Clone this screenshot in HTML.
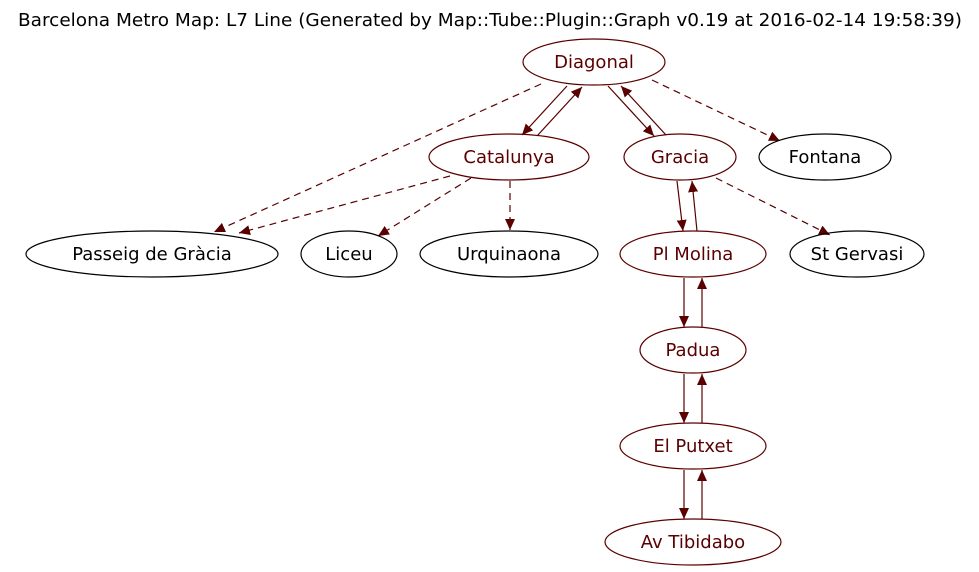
<!DOCTYPE html>
<html><head><meta charset="utf-8"><style>
html,body{margin:0;padding:0;background:#fff;}
svg{display:block;}
text{font-family:"DejaVu Sans","Liberation Sans",sans-serif;font-size:18px;}
</style></head><body>
<svg width="979" height="572" viewBox="0 0 979 572" xmlns="http://www.w3.org/2000/svg">
<defs>
<marker id="a" markerUnits="userSpaceOnUse" markerWidth="12" markerHeight="10" refX="11" refY="5" orient="auto">
<path d="M0,0 L11,5 L0,10 Z" fill="#5a0000"/>
</marker>
</defs>
<text x="490" y="26" text-anchor="middle" fill="#000" textLength="944" lengthAdjust="spacingAndGlyphs">Barcelona Metro Map: L7 Line (Generated by Map::Tube::Plugin::Graph v0.19 at 2016-02-14 19:58:39)</text>
<g fill="none" stroke="#5a0000" stroke-width="1.2">
<line x1="567" y1="86" x2="522" y2="135" marker-end="url(#a)"/>
<line x1="537" y1="136" x2="582" y2="87" marker-end="url(#a)"/>
<line x1="608" y1="86" x2="654" y2="136" marker-end="url(#a)"/>
<line x1="666" y1="135" x2="621" y2="86" marker-end="url(#a)"/>
<line x1="677" y1="181" x2="683" y2="231" marker-end="url(#a)"/>
<line x1="697" y1="231" x2="692" y2="181" marker-end="url(#a)"/>
<line x1="684" y1="278" x2="684" y2="327" marker-end="url(#a)"/>
<line x1="702" y1="327" x2="702" y2="278" marker-end="url(#a)"/>
<line x1="684" y1="374" x2="684" y2="423" marker-end="url(#a)"/>
<line x1="702" y1="423" x2="702" y2="374" marker-end="url(#a)"/>
<line x1="684" y1="470" x2="684" y2="519" marker-end="url(#a)"/>
<line x1="702" y1="519" x2="702" y2="470" marker-end="url(#a)"/>
<g stroke-dasharray="7,5">
<line x1="652" y1="80" x2="780" y2="141" marker-end="url(#a)"/>
<line x1="541" y1="84" x2="214" y2="232" marker-end="url(#a)"/>
<line x1="450" y1="176" x2="239" y2="233" marker-end="url(#a)"/>
<line x1="471" y1="178" x2="378" y2="236" marker-end="url(#a)"/>
<line x1="510" y1="181" x2="510" y2="230" marker-end="url(#a)"/>
<line x1="716" y1="178" x2="830" y2="235" marker-end="url(#a)"/>
</g>
</g>
<g fill="none" stroke="#5a0000" stroke-width="1.2">
<ellipse cx="594" cy="62" rx="71" ry="23"/>
<ellipse cx="509" cy="157" rx="80" ry="23"/>
<ellipse cx="680" cy="157" rx="56" ry="23"/>
<ellipse cx="693" cy="254" rx="73" ry="23"/>
<ellipse cx="693" cy="350" rx="53" ry="23"/>
<ellipse cx="693" cy="446" rx="73" ry="23"/>
<ellipse cx="693" cy="542" rx="88" ry="23"/>
</g>
<g fill="none" stroke="#000" stroke-width="1.2">
<ellipse cx="825" cy="157" rx="66" ry="23"/>
<ellipse cx="152" cy="254" rx="126" ry="23"/>
<ellipse cx="349" cy="254" rx="48" ry="23"/>
<ellipse cx="509" cy="254" rx="89" ry="23"/>
<ellipse cx="857" cy="254" rx="67" ry="23"/>
</g>
<g text-anchor="middle" fill="#5a0000">
<text x="594" y="68">Diagonal</text>
<text x="509" y="163">Catalunya</text>
<text x="680" y="163">Gracia</text>
<text x="693" y="260">Pl Molina</text>
<text x="693" y="356">Padua</text>
<text x="693" y="452">El Putxet</text>
<text x="693" y="548">Av Tibidabo</text>
</g>
<g text-anchor="middle" fill="#000">
<text x="825" y="163">Fontana</text>
<text x="152" y="260">Passeig de Gràcia</text>
<text x="349" y="260">Liceu</text>
<text x="509" y="260">Urquinaona</text>
<text x="857" y="260">St Gervasi</text>
</g>
</svg>
</body></html>
